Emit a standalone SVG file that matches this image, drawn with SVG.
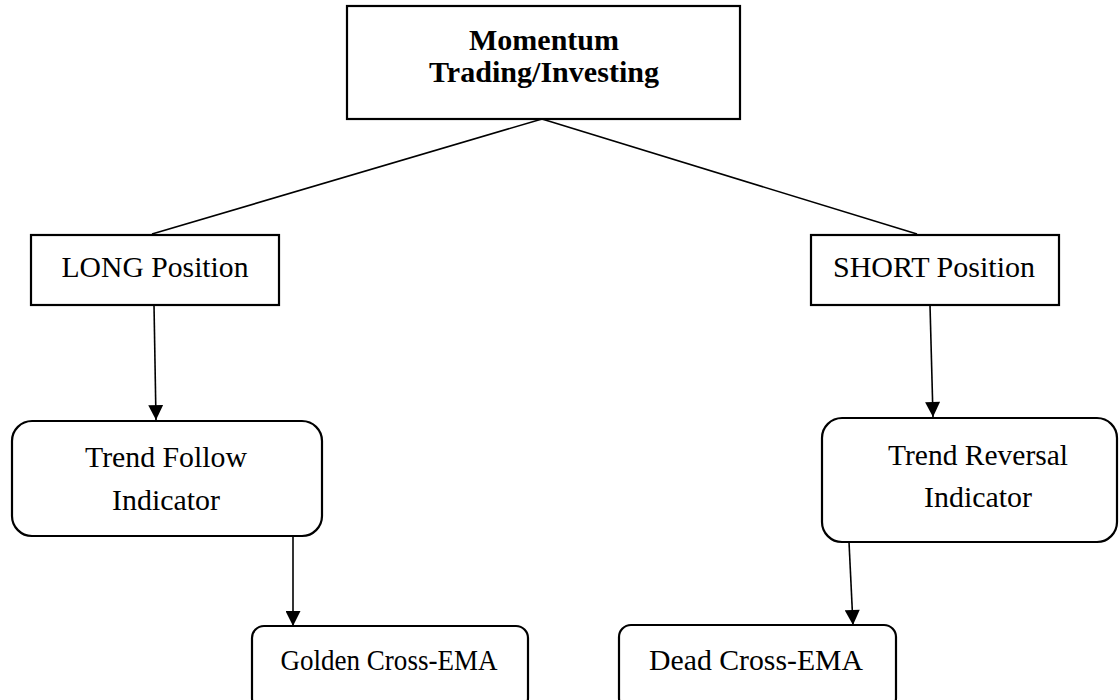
<svg xmlns="http://www.w3.org/2000/svg" width="1119" height="700" viewBox="0 0 1119 700">
<defs>
<style>
.box{fill:#fff;stroke:#000;stroke-width:2.2}
.t{font-family:"Liberation Serif","Times New Roman",serif;font-size:30px;fill:#000;text-anchor:middle}
.b{font-weight:bold}
.c{stroke:#000;stroke-width:1.6;fill:none}
</style>
<marker id="ah" viewBox="0 0 10 10" refX="10" refY="5" markerWidth="17" markerHeight="15" markerUnits="userSpaceOnUse" orient="auto">
<path d="M0,0 L10,5 L0,10 Z" fill="#000"/>
</marker>
</defs>
<rect width="1119" height="700" fill="#fff"/>
<g id="connectors">
<line class="c" x1="542" y1="119" x2="152" y2="234"/>
<line class="c" x1="542" y1="119" x2="917" y2="234"/>
<line class="c" x1="154" y1="305" x2="156" y2="420" marker-end="url(#ah)"/>
<line class="c" x1="930" y1="305" x2="933" y2="417" marker-end="url(#ah)"/>
<line class="c" x1="293" y1="536" x2="293" y2="626" marker-end="url(#ah)"/>
<line class="c" x1="849" y1="542" x2="853" y2="625" marker-end="url(#ah)"/>
</g>
<g id="root">
<rect class="box" x="347" y="6" width="393" height="113"/>
<text class="t b" x="544" y="50" textLength="150" lengthAdjust="spacingAndGlyphs">Momentum</text>
<text class="t b" x="544" y="82" textLength="230" lengthAdjust="spacingAndGlyphs">Trading/Investing</text>
</g>
<g id="long">
<rect class="box" x="31" y="235" width="248" height="70"/>
<text class="t" x="155" y="277" textLength="187" lengthAdjust="spacingAndGlyphs">LONG Position</text>
</g>
<g id="short">
<rect class="box" x="811" y="235" width="248" height="70"/>
<text class="t" x="934" y="277" textLength="202" lengthAdjust="spacingAndGlyphs">SHORT Position</text>
</g>
<g id="trendFollow">
<rect class="box" x="12" y="421" width="310" height="115" rx="20"/>
<text class="t" x="166" y="467" textLength="162" lengthAdjust="spacingAndGlyphs">Trend Follow</text>
<text class="t" x="166" y="510" textLength="108" lengthAdjust="spacingAndGlyphs">Indicator</text>
</g>
<g id="trendReversal">
<rect class="box" x="822" y="418" width="295" height="124" rx="20"/>
<text class="t" x="978" y="465" textLength="180" lengthAdjust="spacingAndGlyphs">Trend Reversal</text>
<text class="t" x="978" y="507" textLength="108" lengthAdjust="spacingAndGlyphs">Indicator</text>
</g>
<g id="golden">
<rect class="box" x="252" y="626" width="276" height="84" rx="12"/>
<text class="t" x="389" y="670" textLength="217" lengthAdjust="spacingAndGlyphs">Golden Cross-EMA</text>
</g>
<g id="dead">
<rect class="box" x="619" y="625" width="277" height="85" rx="12"/>
<text class="t" x="756" y="670" textLength="214" lengthAdjust="spacingAndGlyphs">Dead Cross-EMA</text>
</g>
</svg>
